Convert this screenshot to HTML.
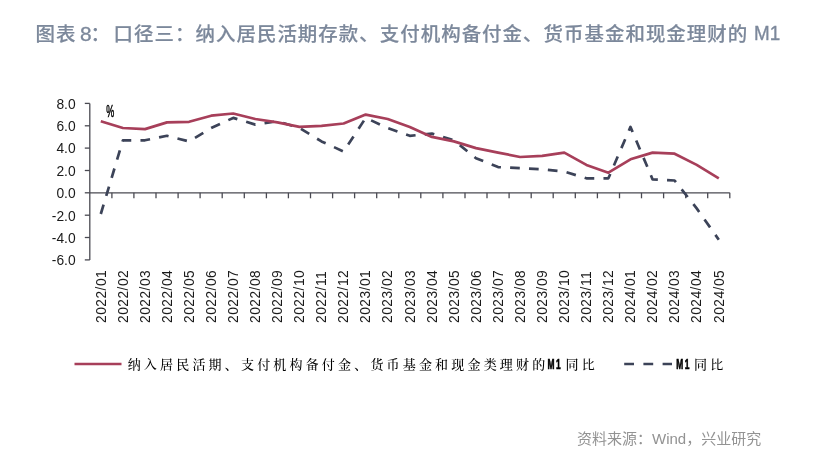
<!DOCTYPE html>
<html lang="zh"><head><meta charset="utf-8"><title>图表 8</title>
<style>
html,body{margin:0;padding:0;background:#fff;}
body{width:813px;height:461px;overflow:hidden;position:relative;font-family:"Liberation Sans","Noto Sans CJK SC",sans-serif;}
#src{position:absolute;left:577px;top:428px;white-space:nowrap;font-size:15px;line-height:22px;color:#939393;font-family:"Liberation Sans","Noto Sans CJK SC",sans-serif;}
svg{position:absolute;left:0;top:0;}
.tt{font-family:"Liberation Sans","Noto Sans CJK SC",sans-serif;font-size:18.9px;font-weight:500;fill:#7c889b;stroke:#7c889b;stroke-width:0.18px;}
.ax{font-family:"Liberation Sans",sans-serif;font-size:13.8px;fill:#1a1a1a;}
.lg{font-family:"Liberation Serif","Noto Serif CJK SC",serif;font-size:13px;font-weight:500;fill:#000;letter-spacing:3.18px;}
.m1{font-family:"Liberation Sans",sans-serif;font-weight:bold;font-size:15px;fill:#000;stroke:#000;stroke-width:0.7px;letter-spacing:3px;}
</style></head><body>
<svg width="813" height="461" viewBox="0 0 813 461">

<text class="tt" transform="translate(35.6,40.7) scale(1.03,1)" letter-spacing="0.95">图表</text>
<text class="tt" transform="translate(80.0,40.7) scale(1.03,1)" style="font-size:20.2px;stroke-width:0.35px">8</text>
<text class="tt" transform="translate(90.6,40.7) scale(1.03,1)" >：</text>
<text class="tt" transform="translate(113.6,40.7) scale(1.03,1)" letter-spacing="0.99">口径三：纳入居民活期存款、支付机构备付金、货币基金和现金理财的</text>
<text class="tt" transform="translate(754.0,40.7) scale(1.03,1)" dy="-0.5" style="font-size:19.5px;stroke-width:0.35px" textLength="25.4" lengthAdjust="spacingAndGlyphs">M1</text>
<g stroke="#4a4a52" stroke-width="1.3" fill="none">
<line x1="89.8" y1="103.4" x2="89.8" y2="259.9"/>
<line x1="89.8" y1="192.8" x2="729.8" y2="192.8"/>
<line x1="84.8" y1="259.9" x2="89.8" y2="259.9"/>
<line x1="84.8" y1="237.5" x2="89.8" y2="237.5"/>
<line x1="84.8" y1="215.2" x2="89.8" y2="215.2"/>
<line x1="84.8" y1="192.8" x2="89.8" y2="192.8"/>
<line x1="84.8" y1="170.5" x2="89.8" y2="170.5"/>
<line x1="84.8" y1="148.1" x2="89.8" y2="148.1"/>
<line x1="84.8" y1="125.8" x2="89.8" y2="125.8"/>
<line x1="84.8" y1="103.4" x2="89.8" y2="103.4"/>
<line x1="111.9" y1="192.8" x2="111.9" y2="198.3"/>
<line x1="133.9" y1="192.8" x2="133.9" y2="198.3"/>
<line x1="156.0" y1="192.8" x2="156.0" y2="198.3"/>
<line x1="178.1" y1="192.8" x2="178.1" y2="198.3"/>
<line x1="200.1" y1="192.8" x2="200.1" y2="198.3"/>
<line x1="222.2" y1="192.8" x2="222.2" y2="198.3"/>
<line x1="244.3" y1="192.8" x2="244.3" y2="198.3"/>
<line x1="266.4" y1="192.8" x2="266.4" y2="198.3"/>
<line x1="288.4" y1="192.8" x2="288.4" y2="198.3"/>
<line x1="310.5" y1="192.8" x2="310.5" y2="198.3"/>
<line x1="332.6" y1="192.8" x2="332.6" y2="198.3"/>
<line x1="354.6" y1="192.8" x2="354.6" y2="198.3"/>
<line x1="376.7" y1="192.8" x2="376.7" y2="198.3"/>
<line x1="398.8" y1="192.8" x2="398.8" y2="198.3"/>
<line x1="420.8" y1="192.8" x2="420.8" y2="198.3"/>
<line x1="442.9" y1="192.8" x2="442.9" y2="198.3"/>
<line x1="465.0" y1="192.8" x2="465.0" y2="198.3"/>
<line x1="487.0" y1="192.8" x2="487.0" y2="198.3"/>
<line x1="509.1" y1="192.8" x2="509.1" y2="198.3"/>
<line x1="531.2" y1="192.8" x2="531.2" y2="198.3"/>
<line x1="553.2" y1="192.8" x2="553.2" y2="198.3"/>
<line x1="575.3" y1="192.8" x2="575.3" y2="198.3"/>
<line x1="597.4" y1="192.8" x2="597.4" y2="198.3"/>
<line x1="619.5" y1="192.8" x2="619.5" y2="198.3"/>
<line x1="641.5" y1="192.8" x2="641.5" y2="198.3"/>
<line x1="663.6" y1="192.8" x2="663.6" y2="198.3"/>
<line x1="685.7" y1="192.8" x2="685.7" y2="198.3"/>
<line x1="707.7" y1="192.8" x2="707.7" y2="198.3"/>
<line x1="729.8" y1="192.8" x2="729.8" y2="198.3"/>
</g>
<text class="ax" x="75.6" y="265.2" text-anchor="end">-6.0</text>
<text class="ax" x="75.6" y="242.8" text-anchor="end">-4.0</text>
<text class="ax" x="75.6" y="220.5" text-anchor="end">-2.0</text>
<text class="ax" x="75.6" y="198.1" text-anchor="end">0.0</text>
<text class="ax" x="75.6" y="175.8" text-anchor="end">2.0</text>
<text class="ax" x="75.6" y="153.4" text-anchor="end">4.0</text>
<text class="ax" x="75.6" y="131.1" text-anchor="end">6.0</text>
<text class="ax" x="75.6" y="108.7" text-anchor="end">8.0</text>
<text class="ax" transform="translate(105.5,322.9) rotate(-90)" letter-spacing="0.45">2022/01</text>
<text class="ax" transform="translate(127.6,322.9) rotate(-90)" letter-spacing="0.45">2022/02</text>
<text class="ax" transform="translate(149.7,322.9) rotate(-90)" letter-spacing="0.45">2022/03</text>
<text class="ax" transform="translate(171.7,322.9) rotate(-90)" letter-spacing="0.45">2022/04</text>
<text class="ax" transform="translate(193.8,322.9) rotate(-90)" letter-spacing="0.45">2022/05</text>
<text class="ax" transform="translate(215.9,322.9) rotate(-90)" letter-spacing="0.45">2022/06</text>
<text class="ax" transform="translate(237.9,322.9) rotate(-90)" letter-spacing="0.45">2022/07</text>
<text class="ax" transform="translate(260.0,322.9) rotate(-90)" letter-spacing="0.45">2022/08</text>
<text class="ax" transform="translate(282.1,322.9) rotate(-90)" letter-spacing="0.45">2022/09</text>
<text class="ax" transform="translate(304.2,322.9) rotate(-90)" letter-spacing="0.45">2022/10</text>
<text class="ax" transform="translate(326.2,322.9) rotate(-90)" letter-spacing="0.45">2022/11</text>
<text class="ax" transform="translate(348.3,322.9) rotate(-90)" letter-spacing="0.45">2022/12</text>
<text class="ax" transform="translate(370.4,322.9) rotate(-90)" letter-spacing="0.45">2023/01</text>
<text class="ax" transform="translate(392.4,322.9) rotate(-90)" letter-spacing="0.45">2023/02</text>
<text class="ax" transform="translate(414.5,322.9) rotate(-90)" letter-spacing="0.45">2023/03</text>
<text class="ax" transform="translate(436.6,322.9) rotate(-90)" letter-spacing="0.45">2023/04</text>
<text class="ax" transform="translate(458.6,322.9) rotate(-90)" letter-spacing="0.45">2023/05</text>
<text class="ax" transform="translate(480.7,322.9) rotate(-90)" letter-spacing="0.45">2023/06</text>
<text class="ax" transform="translate(502.8,322.9) rotate(-90)" letter-spacing="0.45">2023/07</text>
<text class="ax" transform="translate(524.8,322.9) rotate(-90)" letter-spacing="0.45">2023/08</text>
<text class="ax" transform="translate(546.9,322.9) rotate(-90)" letter-spacing="0.45">2023/09</text>
<text class="ax" transform="translate(569.0,322.9) rotate(-90)" letter-spacing="0.45">2023/10</text>
<text class="ax" transform="translate(591.1,322.9) rotate(-90)" letter-spacing="0.45">2023/11</text>
<text class="ax" transform="translate(613.1,322.9) rotate(-90)" letter-spacing="0.45">2023/12</text>
<text class="ax" transform="translate(635.2,322.9) rotate(-90)" letter-spacing="0.45">2024/01</text>
<text class="ax" transform="translate(657.3,322.9) rotate(-90)" letter-spacing="0.45">2024/02</text>
<text class="ax" transform="translate(679.3,322.9) rotate(-90)" letter-spacing="0.45">2024/03</text>
<text class="ax" transform="translate(701.4,322.9) rotate(-90)" letter-spacing="0.45">2024/04</text>
<text class="ax" transform="translate(723.5,322.9) rotate(-90)" letter-spacing="0.45">2024/05</text>
<text x="106.2" y="116.8" font-family="Liberation Sans,sans-serif" font-size="16" fill="#000" stroke="#000" stroke-width="0.5" textLength="8" lengthAdjust="spacingAndGlyphs">%</text>
<polyline points="100.8,214.0 122.9,140.3 145.0,140.3 167.0,135.8 189.1,141.4 211.2,128.0 233.2,117.9 255.3,124.6 277.4,121.3 299.5,128.0 321.5,141.4 343.6,151.5 365.7,117.9 387.7,128.0 409.8,135.8 431.9,133.6 453.9,140.3 476.0,158.2 498.1,167.1 520.1,168.2 542.2,169.3 564.3,171.6 586.4,178.3 608.4,178.3 630.5,126.9 652.6,179.4 674.6,180.5 696.7,208.4 718.8,239.7" fill="none" stroke="#3c4358" stroke-width="2.7" stroke-dasharray="9.7 9.2" stroke-linejoin="round"/>
<polyline points="100.8,121.3 122.9,128.0 145.0,129.1 167.0,122.4 189.1,121.8 211.2,115.7 233.2,113.5 255.3,119.0 277.4,122.4 299.5,126.9 321.5,125.8 343.6,123.5 365.7,114.6 387.7,119.0 409.8,126.9 431.9,136.9 453.9,141.4 476.0,148.1 498.1,152.6 520.1,157.0 542.2,155.9 564.3,152.6 586.4,164.9 608.4,172.7 630.5,159.3 652.6,152.6 674.6,153.7 696.7,164.9 718.8,178.3" fill="none" stroke="#a73f5a" stroke-width="2.7" stroke-linejoin="round"/>
<line x1="74.5" y1="364" x2="121.5" y2="364" stroke="#a73f5a" stroke-width="2.7"/>
<text class="lg" x="127.7" y="368.8">纳入居民活期、支付机构备付金、货币基金和现金类理财的</text>
<text class="m1" transform="translate(547.4,369.3) scale(0.56,1)">M1</text>
<text class="lg" x="565.6" y="368.8">同比</text>
<line x1="624.2" y1="364" x2="672" y2="364" stroke="#3c4358" stroke-width="2.7" stroke-dasharray="9.8 9.4"/>
<text class="m1" transform="translate(676.2,369.3) scale(0.56,1)">M1</text>
<text class="lg" x="694" y="368.8">同比</text>
</svg>
<div id="src">资料来源：Wind，兴业研究</div>
</body></html>
